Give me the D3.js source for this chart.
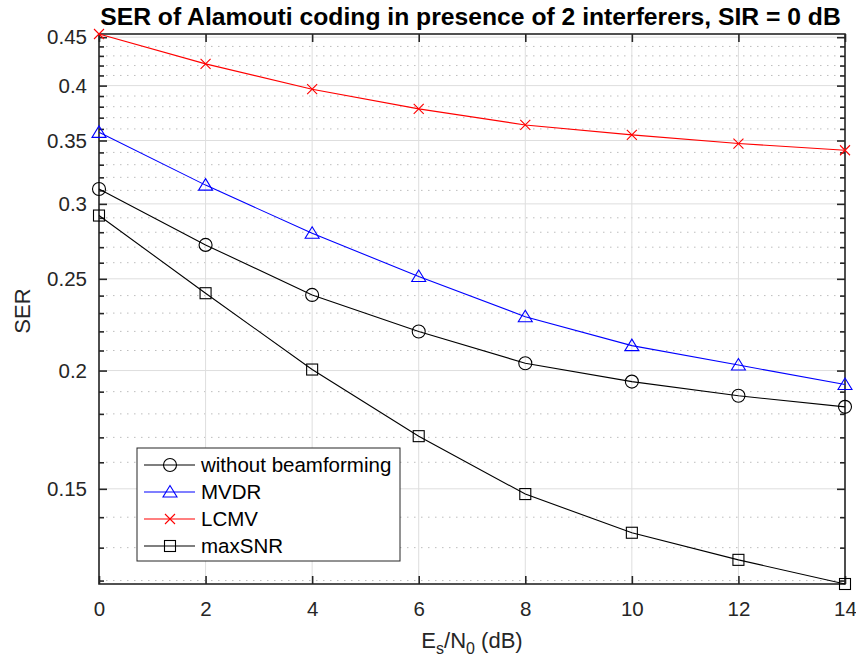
<!DOCTYPE html>
<html>
<head>
<meta charset="utf-8">
<script src="https://cdn.jsdelivr.net/npm/d3@7"></script>
<style>
  html, body { margin: 0; padding: 0; background: #fff; }
  svg { display: block; }
  text { font-family: "Liberation Sans", Arial, Helvetica, sans-serif; }
</style>
</head>
<body>
<svg id="chart" width="856" height="660"></svg>
<script>
// ---- data ----
const snrDb = [0, 2, 4, 6, 8, 10, 12, 14];
const serNoBeamforming = [0.3111, 0.2715, 0.2404, 0.2199, 0.2036, 0.1947, 0.1881, 0.1831];
const serMVDR = [0.357, 0.314, 0.2793, 0.2514, 0.228, 0.2125, 0.2027, 0.1933];
const serLCMV = [0.4535, 0.4217, 0.3965, 0.378, 0.3635, 0.3548, 0.3474, 0.3418];
const serMaxSNR = [0.2916, 0.2414, 0.2005, 0.1705, 0.1481, 0.1348, 0.1262, 0.119];
const seriesNames = ["without beamforming", "MVDR", "LCMV", "maxSNR"];
const xTicks = [0, 2, 4, 6, 8, 10, 12, 14];
const yTicks = [0.15, 0.2, 0.25, 0.3, 0.35, 0.4, 0.45];
const yTickLabels = ["0.15", "0.2", "0.25", "0.3", "0.35", "0.4", "0.45"];
const yMinorTicks = [0.12, 0.13, 0.14, 0.16, 0.17, 0.18, 0.19, 0.21, 0.22, 0.23, 0.24,
  0.26, 0.27, 0.28, 0.29, 0.31, 0.32, 0.33, 0.34, 0.36, 0.37, 0.38, 0.39, 0.41, 0.42, 0.43, 0.44];
const titleText = "SER of Alamouti coding in presence of 2 interferers, SIR = 0 dB";

const seriesValues = [serNoBeamforming, serMVDR, serLCMV, serMaxSNR];
const seriesStyle = [
  { color: "#000000", marker: "circle" },
  { color: "#0000ff", marker: "triangle" },
  { color: "#ff0000", marker: "x" },
  { color: "#000000", marker: "square" }
];

// ---- layout ----
const L = 99, R = 845, T = 34, B = 584;
const axisColor = "#262626";
const svg = d3.select("#chart");

const x = d3.scaleLinear().domain(d3.extent(snrDb)).range([L, R]);
const allVals = seriesValues.flat();
const y = d3.scaleLog().domain(d3.extent(allVals)).range([B, T]);

// grids
const g = svg.append("g");
g.selectAll(".ymin").data(yMinorTicks.filter(v => v >= y.domain()[0] && v <= y.domain()[1]))
  .enter().append("line")
  .attr("x1", L).attr("x2", R)
  .attr("y1", d => y(d)).attr("y2", d => y(d))
  .attr("stroke", "#bdbdbd").attr("stroke-width", 1)
  .attr("stroke-dasharray", "1.5,5.5");
g.selectAll(".ymaj").data(yTicks).enter().append("line")
  .attr("x1", L).attr("x2", R)
  .attr("y1", d => y(d)).attr("y2", d => y(d))
  .attr("stroke", "#dedede").attr("stroke-width", 1);
g.selectAll(".xmaj").data(xTicks).enter().append("line")
  .attr("y1", T).attr("y2", B)
  .attr("x1", d => x(d)).attr("x2", d => x(d))
  .attr("stroke", "#dedede").attr("stroke-width", 1);

// axes via d3 axis generators
const tickFont = "20.5px";
const xAxis = svg.append("g").attr("transform", `translate(0,${B})`)
  .call(d3.axisBottom(x).tickValues(xTicks).tickSize(-8).tickPadding(17).tickFormat(d3.format("d")));
const xAxisTop = svg.append("g").attr("transform", `translate(0,${T})`)
  .call(d3.axisTop(x).tickValues(xTicks).tickSize(-8).tickFormat(""));
const yAxis = svg.append("g").attr("transform", `translate(${L},0)`)
  .call(d3.axisLeft(y).tickValues(yTicks).tickSize(-8).tickPadding(12)
    .tickFormat((d, i) => yTickLabels[i]));
const yAxisR = svg.append("g").attr("transform", `translate(${R},0)`)
  .call(d3.axisRight(y).tickValues(yTicks).tickSize(-8).tickFormat(""));
const yMinL = svg.append("g").attr("transform", `translate(${L},0)`)
  .call(d3.axisLeft(y).tickValues(yMinorTicks.filter(v => v >= y.domain()[0])).tickSize(-5).tickFormat(""));
const yMinR = svg.append("g").attr("transform", `translate(${R},0)`)
  .call(d3.axisRight(y).tickValues(yMinorTicks.filter(v => v >= y.domain()[0])).tickSize(-5).tickFormat(""));

[xAxis, xAxisTop, yAxis, yAxisR, yMinL, yMinR].forEach(a => {
  a.select(".domain").remove();
  a.selectAll("line").attr("stroke", axisColor).attr("stroke-width", 1.6);
  a.selectAll("text").attr("fill", axisColor).style("font-size", tickFont)
    .style("font-family", '"Liberation Sans", Arial, sans-serif');
});

// box
svg.append("rect").attr("x", L).attr("y", T).attr("width", R - L).attr("height", B - T)
  .attr("fill", "none").attr("stroke", axisColor).attr("stroke-width", 1.6);

// markers
function drawMarker(sel, type, color) {
  if (type === "circle") {
    sel.append("circle").attr("r", 6.5).attr("fill", "none").attr("stroke", color).attr("stroke-width", 1.1);
  } else if (type === "triangle") {
    sel.append("path").attr("d", "M0,-6.5L7,5L-7,5Z").attr("fill", "none").attr("stroke", color).attr("stroke-width", 1.1);
  } else if (type === "x") {
    sel.append("path").attr("d", "M-5,-5L5,5M-5,5L5,-5").attr("fill", "none").attr("stroke", color).attr("stroke-width", 1.1);
  } else if (type === "square") {
    sel.append("rect").attr("x", -5.5).attr("y", -5.5).attr("width", 11).attr("height", 11)
      .attr("fill", "none").attr("stroke", color).attr("stroke-width", 1.1);
  }
}

const line = d3.line().x((d, i) => x(snrDb[i])).y(d => y(d));
const plot = svg.append("g");
seriesValues.forEach((vals, si) => {
  const st = seriesStyle[si];
  plot.append("path").datum(vals).attr("d", line)
    .attr("fill", "none").attr("stroke", st.color).attr("stroke-width", 1.1);
  vals.forEach((v, i) => {
    const m = plot.append("g").attr("transform", `translate(${x(snrDb[i])},${y(v)})`);
    drawMarker(m, st.marker, st.color);
  });
});

// legend
const lg = svg.append("g");
const lgX = 137, lgY = 448, lgW = 263, lgH = 113, rowH = 27;
lg.append("rect").attr("x", lgX).attr("y", lgY).attr("width", lgW).attr("height", lgH)
  .attr("fill", "#fff").attr("stroke", axisColor).attr("stroke-width", 1);
seriesNames.forEach((name, i) => {
  const cy = lgY + 17 + i * rowH;
  const st = seriesStyle[i];
  lg.append("line").attr("x1", lgX + 7).attr("x2", lgX + 58).attr("y1", cy).attr("y2", cy)
    .attr("stroke", st.color).attr("stroke-width", 1.1);
  const m = lg.append("g").attr("transform", `translate(${lgX + 33},${cy})`);
  drawMarker(m, st.marker, st.color);
  lg.append("text").attr("x", lgX + 64).attr("y", cy).attr("dy", "0.35em")
    .style("font-size", "20.5px").attr("fill", "#000").text(name);
});

// title (bold, fit to target width)
const title = svg.append("text").attr("x", (100 + 841) / 2).attr("y", 25)
  .attr("text-anchor", "middle").style("font-weight", "bold").style("font-size", "21px")
  .attr("fill", "#000").text(titleText);
const tw = title.node().getComputedTextLength();
title.style("font-size", (21 * 741 / tw).toFixed(2) + "px");

// axis labels
const xl = svg.append("text").attr("x", (L + R) / 2).attr("y", 648)
  .attr("text-anchor", "middle").attr("fill", axisColor).style("font-size", "22px");
xl.append("tspan").text("E");
xl.append("tspan").attr("dy", 6).style("font-size", "16px").text("s");
xl.append("tspan").attr("dy", -6).text("/N");
xl.append("tspan").attr("dy", 6).style("font-size", "16px").text("0");
xl.append("tspan").attr("dy", -6).text(" (dB)");

svg.append("text").attr("transform", `translate(30,${(T + B) / 2 + 2}) rotate(-90)`)
  .attr("text-anchor", "middle").attr("fill", axisColor).style("font-size", "22px").text("SER");
</script>
</body>
</html>
